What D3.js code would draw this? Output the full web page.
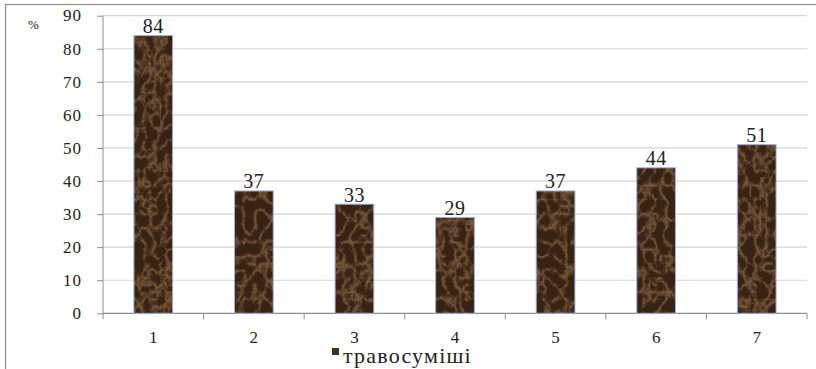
<!DOCTYPE html>
<html>
<head>
<meta charset="utf-8">
<script src="https://cdn.jsdelivr.net/npm/d3@7"></script>
</head>
<body style="margin:0;background:#fff;font-family:'Times New Roman'">
<svg id="chart" width="816" height="369" style="display:block"></svg>
<script>
// Grass-mixture shares, %
const categories = ["1", "2", "3", "4", "5", "6", "7"];
const values = [84, 37, 33, 29, 37, 44, 51];
const yTicks = [0, 10, 20, 30, 40, 50, 60, 70, 80, 90];
const seriesName = "травосуміші";
const unitLabel = "%";

const INK = "#222";
const svg = d3.select("#chart");
const W = 816, H = 369;
const plot = { left: 103, right: 807, top: 15.7, bottom: 313.3 };

// Serif text helper
function serif(sel, size) {
  return sel.style("font-family", "'Times New Roman'")
    .attr("font-size", size).attr("fill", INK);
}

// Outer frame (runs past right and bottom edges)
svg.append("rect")
  .attr("x", 5.5).attr("y", 4.5)
  .attr("width", W + 10).attr("height", H + 10)
  .attr("fill", "#fff").attr("stroke", "#8c8c8c").attr("stroke-width", 1.2);

// Dark brown marble with light tan veins for the bars
const defs = svg.append("defs");
const f = defs.append("filter").attr("id", "marble")
  .attr("x", 0).attr("y", 0).attr("width", 1).attr("height", 1)
  .attr("filterUnits", "objectBoundingBox")
  .attr("color-interpolation-filters", "sRGB");
f.append("feTurbulence").attr("type", "turbulence")
  .attr("baseFrequency", "0.09 0.07").attr("numOctaves", 4).attr("seed", 11)
  .attr("result", "noise");
f.append("feColorMatrix").attr("in", "noise").attr("type", "matrix")
  .attr("values", [
    "-2.6 0 0 0 1",
    "-2.6 0 0 0 1",
    "-2.6 0 0 0 1",
    "0 0 0 0 1"].join(" "))
  .attr("result", "veins");
f.append("feColorMatrix").attr("in", "veins").attr("type", "matrix")
  .attr("values", [
    "0.30 0 0 0 0.22",
    "0.25 0 0 0 0.135",
    "0.18 0 0 0 0.08",
    "0 0 0 0 1"].join(" "))
  .attr("result", "tinted");
f.append("feGaussianBlur").attr("in", "tinted").attr("stdDeviation", 0.5).attr("result", "soft");
f.append("feComposite").attr("in", "soft").attr("in2", "SourceGraphic")
  .attr("operator", "in");

const x = d3.scaleBand().domain(categories)
  .range([plot.left, plot.right]).paddingInner(0.615).paddingOuter(0.3075);
const y = d3.scaleLinear().domain([0, 90]).range([plot.bottom, plot.top]);

// Horizontal gridlines
svg.append("g").selectAll("line").data(yTicks.filter(d => d > 0)).join("line")
  .attr("x1", plot.left).attr("x2", plot.right)
  .attr("y1", d => y(d)).attr("y2", d => y(d))
  .attr("stroke", "#d4d4d4").attr("stroke-width", 1.2);

// Y axis: line and tick marks from d3, labels as serif text
const yAxis = svg.append("g").attr("transform", `translate(${plot.left},0)`)
  .call(d3.axisLeft(y).tickValues(yTicks).tickSize(6).tickFormat(""));
yAxis.select(".domain").attr("stroke", "#8c8c8c").attr("d", `M0,${plot.top}V${plot.bottom}`);
yAxis.selectAll(".tick line").attr("stroke", "#8c8c8c");
svg.append("g").selectAll("text").data(yTicks).join("text")
  .call(serif, 17)
  .attr("x", 82).attr("y", d => y(d)).attr("dy", "0.34em")
  .attr("text-anchor", "end").attr("letter-spacing", 1).text(d => d);

// X axis with ticks on band boundaries
const xAxisG = svg.append("g").attr("transform", `translate(0,${plot.bottom})`);
xAxisG.append("line").attr("x1", plot.left).attr("x2", plot.right)
  .attr("stroke", "#8c8c8c").attr("stroke-width", 1.2);
const step = x.step();
const bounds = d3.range(categories.length + 1).map(i => plot.left + i * step);
xAxisG.selectAll("line.tk").data(bounds).join("line").attr("class", "tk")
  .attr("x1", d => d).attr("x2", d => d).attr("y1", 0).attr("y2", 6)
  .attr("stroke", "#8c8c8c");
svg.append("g").selectAll("text").data(categories).join("text")
  .call(serif, 17)
  .attr("x", d => x(d) + x.bandwidth() / 2).attr("y", plot.bottom + 30)
  .attr("text-anchor", "middle").text(d => d);

// Bars
const bars = svg.append("g");
bars.selectAll("rect.fill").data(values).join("rect").attr("class", "fill")
  .attr("x", (d, i) => x(categories[i])).attr("width", x.bandwidth())
  .attr("y", d => y(d)).attr("height", d => y(0) - y(d))
  .attr("fill", "#3d2415").attr("filter", "url(#marble)");
bars.selectAll("rect.edge").data(values).join("rect").attr("class", "edge")
  .attr("x", (d, i) => x(categories[i])).attr("width", x.bandwidth())
  .attr("y", d => y(d)).attr("height", d => y(0) - y(d))
  .attr("fill", "none").attr("stroke", "#9fb0dc").attr("stroke-width", 1);

// Value labels
svg.append("g").selectAll("text").data(values).join("text")
  .call(serif, 20)
  .attr("x", (d, i) => x(categories[i]) + x.bandwidth() / 2)
  .attr("y", d => y(d) - 2.5)
  .attr("text-anchor", "middle").attr("letter-spacing", 0.5).text(d => d);

// Unit label
svg.append("text").call(serif, 13)
  .attr("x", 28).attr("y", 28.5).text(unitLabel);

// Legend
const lg = svg.append("g");
lg.append("rect").attr("x", 332).attr("y", 348).attr("width", 7).attr("height", 7)
  .attr("fill", "#4a2c1a");
lg.append("text").call(serif, 22)
  .attr("x", 343).attr("y", 362.5).attr("letter-spacing", 1.2).text(seriesName);
</script>
</body>
</html>
